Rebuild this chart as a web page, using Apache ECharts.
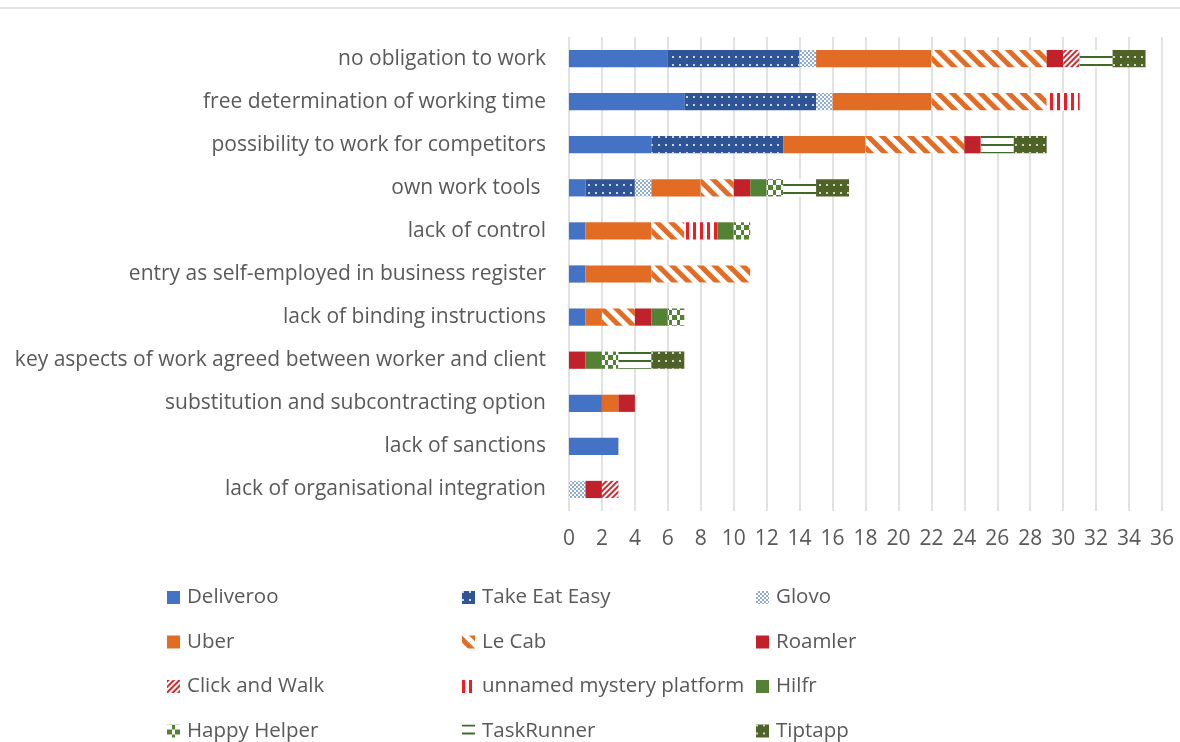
<!DOCTYPE html>
<html>
<head>
<meta charset="utf-8">
<script src="https://cdn.jsdelivr.net/npm/echarts@6/dist/echarts.min.js"></script>
<style>
html, body { margin: 0; padding: 0; background: #fff; }
#chart { width: 1180px; height: 742px; }
</style>
</head>
<body>
<div id="chart"></div>
<script>
let categories = [
    'no obligation to work',
    'free determination of working time',
    'possibility to work for competitors',
    'own work tools ',
    'lack of control',
    'entry as self-employed in business register',
    'lack of binding instructions',
    'key aspects of work agreed between worker and client',
    'substitution and subcontracting option',
    'lack of sanctions',
    'lack of organisational integration'
]
let xTicks = { min: 0, max: 36, step: 2 }

let deliveroo = [6, 7, 5, 1, 1, 1, 1, 0, 2, 3, 0]
let takeEatEasy = [8, 8, 8, 3, 0, 0, 0, 0, 0, 0, 0]
let glovo = [1, 1, 0, 1, 0, 0, 0, 0, 0, 0, 1]
let uber = [7, 6, 5, 3, 4, 4, 1, 0, 1, 0, 0]
let leCab = [7, 7, 6, 2, 2, 6, 2, 0, 0, 0, 0]
let roamler = [1, 0, 1, 1, 0, 0, 1, 1, 1, 0, 1]
let clickAndWalk = [1, 0, 0, 0, 0, 0, 0, 0, 0, 0, 1]
let unnamed = [0, 2, 0, 0, 2, 0, 0, 0, 0, 0, 0]
let hilfr = [0, 0, 0, 1, 1, 0, 1, 1, 0, 0, 0]
let happyHelper = [0, 0, 0, 1, 1, 0, 1, 1, 0, 0, 0]
let taskRunner = [2, 0, 2, 2, 0, 0, 0, 2, 0, 0, 0]
let tiptapp = [2, 0, 2, 2, 0, 0, 0, 2, 0, 0, 0]

let FONT = '"Open Sans"'
let TXT = '#595959'

// fill + decal pattern per platform (roughly the Excel pattern fills)
let styles = {
    'Deliveroo': { color: '#4472C4' },
    'Take Eat Easy': { color: '#2F5597', decal: { symbol: 'circle', color: '#fff', symbolSize: 1, dashArrayX: [2, 5], dashArrayY: [2, 6] } },
    'Glovo': { color: '#fff', decal: { symbol: 'rect', color: '#8FAADC', symbolSize: 1, dashArrayX: [[2, 2], [0, 2, 2, 0]], dashArrayY: [2, 0] } },
    'Uber': { color: '#E36C25' },
    'Le Cab': { color: '#fff', decal: { symbol: 'rect', color: '#E36C25', symbolSize: 1, dashArrayX: [1, 0], dashArrayY: [5, 5], rotation: Math.PI / 4 } },
    'Roamler': { color: '#C0212A' },
    'Click and Walk': { color: '#fff', decal: { symbol: 'rect', color: '#D02A30', symbolSize: 1, dashArrayX: [1, 0], dashArrayY: [2, 2], rotation: -Math.PI / 4 } },
    'unnamed mystery platform': { color: '#fff', decal: { symbol: 'rect', color: '#EE1C24', symbolSize: 1, dashArrayX: [3, 4], dashArrayY: [1, 0] } },
    'Hilfr': { color: '#548235' },
    'Happy Helper': { color: '#fff', decal: { symbol: 'rect', color: '#548235', symbolSize: 1, dashArrayX: [[5, 3], [0, 5, 3, 0]], dashArrayY: [5, 0] } },
    'TaskRunner': { color: '#fff', decal: { symbol: 'rect', color: '#3F6A2A', symbolSize: 1, dashArrayX: [1, 0], dashArrayY: [2, 6] } },
    'Tiptapp': { color: '#4F6228', decal: { symbol: 'circle', color: '#fff', symbolSize: 1, dashArrayX: [2, 5], dashArrayY: [2, 6] } }
}

let seriesData = [
    ['Deliveroo', deliveroo],
    ['Take Eat Easy', takeEatEasy],
    ['Glovo', glovo],
    ['Uber', uber],
    ['Le Cab', leCab],
    ['Roamler', roamler],
    ['Click and Walk', clickAndWalk],
    ['unnamed mystery platform', unnamed],
    ['Hilfr', hilfr],
    ['Happy Helper', happyHelper],
    ['TaskRunner', taskRunner],
    ['Tiptapp', tiptapp]
]

let series = seriesData.map(([name, vals]) => ({
    name: name,
    type: 'bar',
    stack: 'all',
    barWidth: '40%',
    data: vals.map(v => v === 0 ? null : v),
    itemStyle: styles[name],
    emphasis: { disabled: true }
}))

let legendCol = (names, left) => ({
    orient: 'vertical',
    left: left,
    top: 587,
    height: 200,
    padding: 0,
    itemWidth: 13,
    itemHeight: 13,
    itemGap: 23.5,
    icon: 'rect',
    data: names,
    textStyle: { fontFamily: FONT, fontSize: 20.5, color: TXT, padding: [0, 0, 0, 2] }
})

let options = {
    animation: false,
    grid: { left: 569, right: 18, top: 37, bottom: 231, containLabel: false },
    xAxis: {
        type: 'value',
        min: xTicks.min,
        max: xTicks.max,
        interval: xTicks.step,
        axisLine: { show: false },
        axisTick: { show: false },
        splitLine: { lineStyle: { color: '#D9D9D9', width: 1.5 } },
        axisLabel: { fontFamily: FONT, fontSize: 21, color: TXT, margin: 18 }
    },
    yAxis: {
        type: 'category',
        inverse: true,
        data: categories,
        axisLine: { show: false },
        axisTick: { show: false },
        axisLabel: { fontFamily: FONT, fontSize: 21, color: TXT, margin: 23 }
    },
    legend: [
        legendCol(['Deliveroo', 'Uber', 'Click and Walk', 'Happy Helper'], 167),
        legendCol(['Take Eat Easy', 'Le Cab', 'unnamed mystery platform', 'TaskRunner'], 462),
        legendCol(['Glovo', 'Roamler', 'Hilfr', 'Tiptapp'], 756)
    ],
    graphic: [{
        type: 'line',
        shape: { x1: 0, y1: 8, x2: 1180, y2: 8 },
        style: { stroke: '#D9D9D9', lineWidth: 1.5 }
    }],
    series: series
}

let mychart = echarts.init(document.getElementById('chart'))
mychart.setOption(options)
</script>
</body>
</html>
